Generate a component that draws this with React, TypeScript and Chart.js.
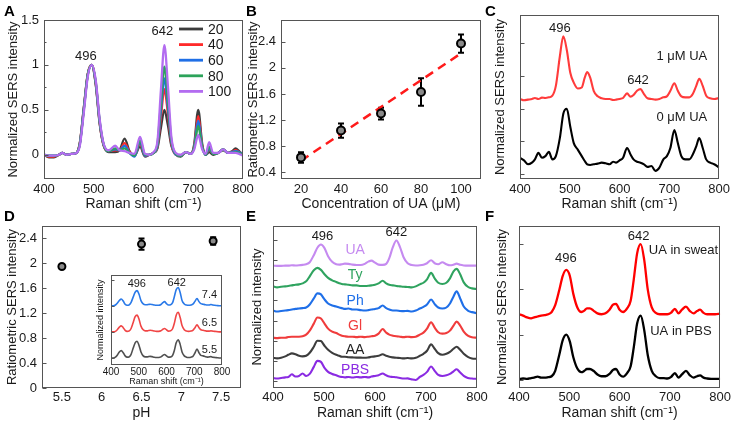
import React, { useEffect, useRef } from "react";
import { Chart, registerables } from "chart.js";

Chart.register(...registerables);

const FONT = '"Liberation Sans", Arial, Helvetica, sans-serif';
const W = 733;
const H = 423;
const AXIS = "#555555";
const TXT = "#1a1a1a";

// ---------------- Panel A : spectra vs concentration ----------------
const xA = [400,410,420,430,437,445,455,465,472,480,488,496,504,512,520,530,543,552,562,572,582,593,603,612,620,628,635,642,649,656,665,675,685,695,702,710,718,725,732,740,750,760,770,778,785,792,800];
const a20 = [0.00,-0.03,-0.03,0.00,0.02,0.00,0.01,0.02,0.13,0.52,0.90,1.00,0.78,0.34,0.10,0.03,0.03,0.05,0.18,0.04,-0.01,0.09,-0.02,0.00,0.02,0.07,0.30,0.50,0.33,0.10,0.00,-0.02,0.03,0.01,0.12,0.50,0.12,0.00,0.03,0.00,0.02,0.05,0.02,0.04,0.07,0.04,0.00];
const a40 = [0.00,-0.02,-0.02,0.00,0.02,0.00,0.01,0.02,0.13,0.52,0.90,1.00,0.79,0.35,0.10,0.04,0.05,0.05,0.13,0.03,-0.01,0.12,-0.01,0.00,0.02,0.09,0.42,0.73,0.46,0.12,0.00,-0.01,0.03,0.01,0.10,0.43,0.10,0.00,0.06,0.01,0.02,0.06,0.02,0.03,0.05,0.03,0.00];
const a60 = [0.00,-0.01,-0.01,0.00,0.02,0.00,0.01,0.02,0.12,0.51,0.89,1.00,0.80,0.36,0.11,0.04,0.06,0.05,0.10,0.02,-0.02,0.14,-0.01,0.00,0.02,0.10,0.49,0.85,0.53,0.14,0.00,-0.01,0.03,0.01,0.09,0.38,0.09,0.00,0.07,0.01,0.02,0.06,0.02,0.03,0.04,0.03,0.00];
const a80 = [0.00,-0.01,-0.01,0.00,0.02,0.00,0.01,0.02,0.12,0.50,0.89,1.00,0.81,0.37,0.11,0.04,0.07,0.05,0.07,0.02,-0.01,0.16,0.00,0.00,0.02,0.12,0.57,0.98,0.61,0.16,0.01,-0.01,0.03,0.01,0.08,0.32,0.08,0.00,0.09,0.01,0.02,0.06,0.02,0.02,0.03,0.02,0.00];
const a100 = [0.00,-0.01,-0.01,0.00,0.02,0.00,0.01,0.02,0.10,0.47,0.87,1.00,0.83,0.39,0.12,0.05,0.10,0.05,0.04,0.02,0.01,0.20,0.01,0.00,0.03,0.15,0.72,1.22,0.77,0.20,0.02,0.00,0.03,0.01,0.06,0.22,0.06,0.01,0.14,0.02,0.02,0.06,0.02,0.02,0.02,0.01,-0.01];
const aLabels = ["20", "40", "60", "80", "100"];
const aTicksX = [400, 500, 600, 700, 800];
const aTicksY = [0, 0.5, 1, 1.5];

// ---------------- Panel B : ratiometric vs concentration ----------------
const bConc = [20, 40, 60, 80, 100];
const bRatio = [0.63, 1.04, 1.3, 1.63, 2.37];
const bErr = [0.08, 0.11, 0.09, 0.21, 0.14];
const bFitX = [20, 100];
const bFitY = [0.58, 2.22];
const bTicksX = [20, 40, 60, 80, 100];
const bTicksY = [0.4, 0.8, 1.2, 1.6, 2.0, 2.4];

// shared Raman-shift grid for panels C, D-inset, E, F
const xS = [400,408,416,424,430,437,444,451,458,465,472,480,487,494,501,508,516,524,530,535,541,548,556,564,572,580,587,593,600,607,615,622,628,635,642,649,656,664,672,680,688,695,702,710,717,724,732,740,747,754,760,767,774,782,790,800];
const ramanTicks = [400, 500, 600, 700, 800];

// ---------------- Panel C ----------------
const c0 = [0.50,0.42,0.30,0.35,0.45,0.65,0.50,0.55,0.68,0.45, 0.55,1.10,1.85,2.00,1.45,0.95,0.75,0.55,0.40,0.30, 0.28,0.30,0.32,0.35,0.33,0.30,0.38,0.35,0.42,0.50, 0.80,0.60,0.45,0.38,0.35,0.30,0.22,0.25,0.10,0.20, 0.45,0.55,0.80,1.35,0.95,0.55,0.45,0.45,0.60,0.85, 1.10,0.80,0.45,0.35,0.30,0.20];
const c1 = [2.30,2.26,2.28,2.30,2.33,2.30,2.34,2.33,2.35,2.40, 2.70,3.60,4.22,3.80,3.10,2.80,2.62,2.65,2.95,3.12, 2.95,2.55,2.38,2.32,2.30,2.30,2.27,2.28,2.30,2.33, 2.47,2.37,2.42,2.55,2.60,2.45,2.32,2.30,2.28,2.30, 2.35,2.38,2.55,2.78,2.55,2.38,2.35,2.35,2.45,2.70, 2.92,2.70,2.40,2.32,2.30,2.33];
const cTicksY = [0, 1, 2, 3, 4];

// ---------------- Panel D ----------------
const dPH = [5.5, 6.5, 7.4];
const dRatio = [1.95, 2.31, 2.36];
const dErr = [0.03, 0.09, 0.06];
const dTicksX = [5.5, 6, 6.5, 7, 7.5];
const dTicksY = [0, 0.4, 0.8, 1.2, 1.6, 2.0, 2.4];
const d55 = [0.02,0.02,0.05,0.15,0.25,0.30,0.22,0.10,0.05,0.06, 0.15,0.40,0.60,0.66,0.50,0.25,0.10,0.06,0.06,0.07, 0.08,0.07,0.05,0.04,0.04,0.06,0.12,0.15,0.10,0.05, 0.06,0.12,0.30,0.60,0.72,0.55,0.25,0.10,0.05,0.04, 0.05,0.08,0.20,0.36,0.22,0.12,0.10,0.07,0.05,0.06, 0.07,0.05,0.04,0.03,0.02,0.02];
const d65 = [1.02,1.02,1.04,1.12,1.20,1.25,1.18,1.08,1.04,1.05, 1.14,1.38,1.60,1.66,1.50,1.24,1.10,1.06,1.06,1.07, 1.08,1.07,1.05,1.04,1.04,1.06,1.12,1.15,1.10,1.05, 1.06,1.14,1.34,1.66,1.77,1.58,1.26,1.10,1.05,1.04, 1.05,1.08,1.17,1.29,1.18,1.10,1.08,1.06,1.05,1.05, 1.06,1.05,1.04,1.03,1.02,1.02];
const d74 = [2.02,2.02,2.05,2.14,2.22,2.28,2.20,2.08,2.04,2.05, 2.14,2.36,2.54,2.60,2.46,2.22,2.09,2.06,2.06,2.07, 2.08,2.07,2.05,2.04,2.04,2.07,2.14,2.18,2.10,2.05, 2.06,2.14,2.36,2.64,2.72,2.54,2.22,2.09,2.05,2.04, 2.05,2.08,2.18,2.30,2.18,2.10,2.08,2.06,2.05,2.05, 2.07,2.05,2.04,2.03,2.02,2.02];
const insetTicksY = [0, 1, 2, 3];

// ---------------- Panel E ----------------
const ePBS = [0.15,0.12,0.15,0.18,0.20,0.33,0.22,0.25,0.37,0.25, 0.35,0.70,1.00,0.95,0.65,0.45,0.35,0.28,0.22,0.20, 0.18,0.20,0.17,0.20,0.18,0.20,0.18,0.22,0.25,0.28, 0.37,0.28,0.22,0.20,0.18,0.15,0.12,0.13,0.08,0.05, 0.20,0.30,0.45,0.72,0.50,0.30,0.25,0.28,0.35,0.48, 0.58,0.42,0.25,0.15,0.12,0.10];
const eAA = [1.15,1.12,1.15,1.22,1.30,1.37,1.33,1.25,1.22,1.25, 1.40,1.70,2.00,1.98,1.75,1.55,1.40,1.30,1.25,1.20, 1.20,1.18,1.17,1.16,1.16,1.15,1.17,1.20,1.22,1.25, 1.33,1.25,1.20,1.17,1.15,1.14,1.12,1.14,1.12,1.15, 1.25,1.35,1.50,1.82,1.60,1.38,1.30,1.35,1.45,1.60, 1.70,1.55,1.35,1.20,1.12,1.10];
const eGl = [2.15,2.13,2.15,2.15,2.18,2.20,2.20,2.20,2.22,2.30, 2.50,2.85,3.15,3.10,2.85,2.60,2.45,2.38,2.30,2.25, 2.22,2.20,2.20,2.18,2.20,2.18,2.20,2.22,2.25,2.35, 2.58,2.40,2.30,2.25,2.22,2.20,2.18,2.20,2.18,2.20, 2.30,2.40,2.60,2.92,2.65,2.42,2.35,2.38,2.50,2.75, 2.95,2.75,2.45,2.25,2.17,2.15];
const ePh = [3.50,3.45,3.48,3.50,3.52,3.55,3.58,3.60,3.62,3.65, 3.80,4.10,4.35,4.30,4.05,3.85,3.75,3.70,3.65,3.62, 3.58,3.60,3.55,3.55,3.52,3.50,3.52,3.55,3.58,3.62, 3.75,3.62,3.55,3.50,3.50,3.48,3.47,3.48,3.45,3.50, 3.60,3.68,3.80,4.05,3.82,3.65,3.60,3.65,3.85,4.20, 4.45,4.10,3.70,3.50,3.42,3.37];
const eTy = [4.70,4.65,4.68,4.70,4.72,4.75,4.78,4.80,4.85,4.95, 5.20,5.50,5.62,5.52,5.30,5.12,5.00,4.92,4.85,4.82, 4.80,4.78,4.75,4.75,4.72,4.72,4.73,4.75,4.78,4.85, 4.98,4.85,4.78,4.75,4.72,4.70,4.68,4.67,4.65,4.70, 4.80,4.88,5.05,5.37,5.10,4.88,4.82,4.88,5.10,5.45, 5.57,5.30,4.90,4.68,4.60,4.57];
const eUA = [5.73,5.72,5.72,5.73,5.73,5.75,5.74,5.75,5.77,5.80, 5.90,6.25,6.62,6.78,6.60,6.20,5.92,5.80,5.78,5.80, 5.83,5.82,5.78,5.76,5.76,5.82,5.93,5.98,5.88,5.78, 5.77,5.82,6.10,6.65,6.98,6.65,6.15,5.85,5.76,5.74, 5.75,5.78,5.85,6.00,5.85,5.80,5.90,5.80,5.75,5.78, 5.83,5.77,5.74,5.73,5.73,5.73];
const eTicksY = [0, 1, 2, 3, 4, 5, 6, 7];

// ---------------- Panel F ----------------
const fPBS = [0.02,0.03,0.02,0.04,0.05,0.07,0.05,0.05,0.06,0.08, 0.20,0.55,0.88,1.00,0.85,0.50,0.25,0.17,0.20,0.24, 0.24,0.20,0.12,0.08,0.08,0.13,0.22,0.24,0.12,0.07, 0.15,0.30,0.70,1.25,1.42,1.10,0.55,0.20,0.08,0.04, 0.04,0.03,0.06,0.15,0.05,0.12,0.20,0.10,0.05,0.08, 0.10,0.05,0.03,0.02,0.02,0.02];
const fSweat = [1.45,1.42,1.38,1.36,1.38,1.40,1.42,1.43,1.45,1.50, 1.65,1.98,2.30,2.43,2.30,1.90,1.60,1.50,1.53,1.58, 1.58,1.53,1.47,1.45,1.47,1.55,1.66,1.68,1.55,1.50, 1.58,1.75,2.20,2.80,3.00,2.65,2.00,1.60,1.48,1.45, 1.45,1.45,1.48,1.57,1.47,1.55,1.62,1.52,1.47,1.52, 1.55,1.48,1.45,1.45,1.45,1.46];
const fTicksY = [0, 1, 2, 3];

const RAMAN = "Raman shift (cm\u207B\u00B9)";

function fmt(v: number) {
  return String(Math.round(v * 100) / 100);
}

function series(xs: number[], ys: number[], color: string, label = "", width = 2, order = 0) {
  return {
    label,
    order,
    data: xs.map((x, i) => ({ x, y: ys[i] })),
    borderColor: color,
    backgroundColor: color,
    borderWidth: width,
    pointRadius: 0,
    cubicInterpolationMode: "monotone",
    fill: false,
  };
}

function makeDecor(d: any) {
  return {
    id: "decor",
    beforeDraw(chart: any) {
      if (!d.whiteBg) return;
      const { ctx, chartArea: a } = chart;
      ctx.save();
      ctx.fillStyle = "#ffffff";
      ctx.fillRect(a.left, a.top, a.right - a.left, a.bottom - a.top);
      ctx.restore();
    },
    beforeDatasetsDraw(chart: any) {
      if (!d.errors) return;
      const { ctx } = chart;
      const xs = chart.scales.x;
      const ys = chart.scales.y;
      ctx.save();
      ctx.strokeStyle = "#000";
      ctx.lineWidth = 2;
      d.errors.x.forEach((xv: number, i: number) => {
        const px = xs.getPixelForValue(xv);
        const y1 = ys.getPixelForValue(d.errors.y[i] - d.errors.e[i]);
        const y2 = ys.getPixelForValue(d.errors.y[i] + d.errors.e[i]);
        ctx.beginPath();
        ctx.moveTo(px, y1);
        ctx.lineTo(px, y2);
        ctx.moveTo(px - 3, y1);
        ctx.lineTo(px + 3, y1);
        ctx.moveTo(px - 3, y2);
        ctx.lineTo(px + 3, y2);
        ctx.stroke();
      });
      ctx.restore();
    },
    afterDatasetsDraw(chart: any) {
      const { ctx, chartArea: a } = chart;
      const ys = chart.scales.y;
      const xs = chart.scales.x;
      ctx.save();
      ctx.strokeStyle = AXIS;
      ctx.lineWidth = 1;
      const l = Math.round(a.left) + 0.5;
      const t = Math.round(a.top) + 0.5;
      const r = Math.round(a.right) - 0.5;
      const b = Math.round(a.bottom) - 0.5;
      ctx.strokeRect(l, t, r - l, b - t);
      const len = d.tickLen ?? 4;
      ctx.beginPath();
      const vals = ys.ticks.map((tk: any) => tk.value);
      vals.forEach((v: number) => {
        const py = Math.round(ys.getPixelForValue(v)) + 0.5;
        ctx.moveTo(l, py);
        ctx.lineTo(l + len, py);
      });
      if (d.minor) {
        for (let i = 0; i < vals.length - 1; i++) {
          const py = Math.round(ys.getPixelForValue((vals[i] + vals[i + 1]) / 2)) + 0.5;
          ctx.moveTo(l, py);
          ctx.lineTo(l + len / 2, py);
        }
      }
      ctx.stroke();
      (d.texts || []).forEach((tx: any) => {
        ctx.fillStyle = tx.c || TXT;
        ctx.font = `${tx.s || 13}px ${FONT}`;
        ctx.textAlign = "center";
        ctx.textBaseline = "middle";
        ctx.fillText(tx.t, xs.getPixelForValue(tx.x), ys.getPixelForValue(tx.y));
      });
      if (d.legend) {
        const g = d.legend;
        chart.data.datasets.forEach((ds: any, i: number) => {
          const y = a.top + g.y0 + i * g.dy;
          ctx.strokeStyle = ds.borderColor;
          ctx.lineWidth = 2.8;
          ctx.beginPath();
          ctx.moveTo(a.left + g.x0, y);
          ctx.lineTo(a.left + g.x1, y);
          ctx.stroke();
          ctx.fillStyle = TXT;
          ctx.font = `${g.size}px ${FONT}`;
          ctx.textAlign = "left";
          ctx.textBaseline = "middle";
          ctx.fillText(ds.label, a.left + g.xt, y + 1);
        });
      }
      ctx.restore();
    },
  };
}

function buildChart(canvas: HTMLCanvasElement, p: any) {
  const tickSize = p.tickSize ?? 13;
  const titleSize = p.titleSize ?? 13;
  const xTitleSize = p.xTitleSize ?? titleSize;
  const lh = titleSize * 1.2;
  const lhx = xTitleSize * 1.2;
  const leftPad = p.yTitleX - lh / 2;
  const xh = p.xTitleY + lhx / 2 - p.box.B;
  const yw = p.box.L - leftPad;
  const tickFont = { family: FONT, size: tickSize };
  const titleFont = { family: FONT, size: titleSize };
  const xTitleFont = { family: FONT, size: xTitleSize };
  return new Chart(canvas, {
    type: "line",
    data: { datasets: p.datasets },
    options: {
      responsive: false,
      animation: false,
      events: [],
      layout: {
        padding: { left: leftPad, top: p.box.T, right: W - p.box.R, bottom: H - p.box.B - xh },
      },
      plugins: { legend: { display: false }, tooltip: { enabled: false } },
      scales: {
        x: {
          type: "linear",
          position: "bottom",
          min: p.xMin,
          max: p.xMax,
          grid: { display: false, drawTicks: false },
          border: { display: false },
          ticks: {
            font: tickFont,
            color: TXT,
            padding: p.xTickPad ?? 3,
            maxRotation: 0,
            autoSkip: false,
            callback: (v: any) => fmt(Number(v)),
          },
          title: { display: true, text: p.xTitle, font: xTitleFont, color: TXT, padding: 0 },
          afterBuildTicks: (s: any) => {
            s.ticks = p.xTicks.map((v: number) => ({ value: v }));
          },
          afterFit: (s: any) => {
            s.height = xh;
          },
        },
        y: {
          type: "linear",
          position: "left",
          min: p.yMin,
          max: p.yMax,
          grid: { display: false, drawTicks: false },
          border: { display: false },
          ticks: {
            display: p.yLabels,
            font: tickFont,
            color: TXT,
            padding: 5,
            autoSkip: false,
            callback: (v: any) => fmt(Number(v)),
          },
          title: { display: true, text: p.yTitle, font: titleFont, color: TXT, padding: 0 },
          afterBuildTicks: (s: any) => {
            s.ticks = p.yTicks.map((v: number) => ({ value: v }));
          },
          afterFit: (s: any) => {
            s.width = yw;
          },
        },
      },
    } as any,
    plugins: [makeDecor(p.decor || {})],
  } as any);
}

const PANELS: any[] = [
  {
    // A
    box: { L: 44, R: 243, T: 20, B: 179 },
    yTitleX: 13, xTitleY: 204, xTitleSize: 14,
    xMin: 400, xMax: 800, yMin: -0.27, yMax: 1.5,
    xTicks: aTicksX, yTicks: aTicksY, yLabels: true,
    xTitle: RAMAN, yTitle: "Normalized SERS intensity",
    datasets: [
      series(xA, a20, "#3c3c3c", aLabels[0], 2.3, 4),
      series(xA, a40, "#ff2a2a", aLabels[1], 2.3, 3),
      series(xA, a60, "#1f6fe6", aLabels[2], 2.3, 2),
      series(xA, a80, "#2ca35a", aLabels[3], 2.3, 1),
      series(xA, a100, "#b36cf0", aLabels[4], 2.3, 0),
    ],
    decor: {
      minor: true,
      legend: { x0: 135, x1: 159, xt: 164, y0: 9, dy: 15.6, size: 14 },
      texts: [
        { t: "496", x: 484, y: 1.09 },
        { t: "642", x: 638, y: 1.37 },
      ],
    },
  },
  {
    // B
    box: { L: 281, R: 481, T: 20, B: 179 },
    yTitleX: 253, xTitleY: 204, xTitleSize: 14,
    xMin: 10, xMax: 110, yMin: 0.3, yMax: 2.73,
    xTicks: bTicksX, yTicks: bTicksY, yLabels: true,
    xTitle: "Concentration of UA (\u03BCM)", yTitle: "Ratiometric SERS intensity",
    datasets: [
      {
        label: "UA",
        data: bConc.map((x, i) => ({ x, y: bRatio[i] })),
        showLine: false,
        pointRadius: 4,
        pointBackgroundColor: "#8a8a8a",
        pointBorderColor: "#000",
        pointBorderWidth: 2,
      },
      {
        label: "fit",
        data: bFitX.map((x, i) => ({ x, y: bFitY[i] })),
        borderColor: "#ff1a1a",
        borderWidth: 2.5,
        borderDash: [9, 6],
        pointRadius: 0,
      },
    ],
    decor: { errors: { x: bConc, y: bRatio, e: bErr } },
  },
  {
    // C
    box: { L: 520, R: 720, T: 15, B: 179 },
    yTitleX: 500, xTitleY: 204, xTitleSize: 14,
    xMin: 400, xMax: 800, yMin: -0.15, yMax: 4.87,
    xTicks: ramanTicks, yTicks: cTicksY, yLabels: false,
    xTitle: RAMAN, yTitle: "Normalized SERS intensity",
    datasets: [series(xS, c1, "#ff3b3b", "1 \u03BCM UA", 2.1), series(xS, c0, "#000000", "0 \u03BCM UA", 2.1)],
    decor: {
      texts: [
        { t: "496", x: 480, y: 4.46 },
        { t: "1 \u03BCM UA", x: 725, y: 3.6 },
        { t: "642", x: 637, y: 2.88 },
        { t: "0 \u03BCM UA", x: 725, y: 1.73 },
      ],
    },
  },
  {
    // D
    box: { L: 42, R: 241, T: 226, B: 388 },
    yTitleX: 12, xTitleY: 413, xTickPad: 2, xTitleSize: 14,
    xMin: 5.25, xMax: 7.75, yMin: 0, yMax: 2.6,
    xTicks: dTicksX, yTicks: dTicksY, yLabels: true,
    xTitle: "pH", yTitle: "Ratiometric SERS intensity",
    datasets: [
      {
        label: "pH",
        data: dPH.map((x, i) => ({ x, y: dRatio[i] })),
        showLine: false,
        pointRadius: 3.5,
        pointBackgroundColor: "#8a8a8a",
        pointBorderColor: "#000",
        pointBorderWidth: 2,
      },
    ],
    decor: { errors: { x: dPH, y: dRatio, e: dErr } },
  },
  {
    // D inset
    box: { L: 111, R: 222, T: 275, B: 365 },
    yTitleX: 101, xTitleY: 382, xTickPad: 1, tickSize: 10, titleSize: 9,
    xMin: 400, xMax: 800, yMin: -0.25, yMax: 3.2,
    xTicks: ramanTicks, yTicks: insetTicksY, yLabels: false,
    xTitle: RAMAN, yTitle: "Normalized intensity",
    datasets: [
      series(xS, d74, "#2979e8", "7.4", 1.6),
      series(xS, d65, "#f04545", "6.5", 1.6),
      series(xS, d55, "#505050", "5.5", 1.6),
    ],
    decor: {
      whiteBg: true,
      tickLen: 3,
      texts: [
        { t: "496", x: 493, y: 2.87, s: 11 },
        { t: "642", x: 637, y: 2.89, s: 11 },
        { t: "7.4", x: 755, y: 2.45, s: 11 },
        { t: "6.5", x: 755, y: 1.38, s: 11 },
        { t: "5.5", x: 755, y: 0.31, s: 11 },
      ],
    },
  },
  {
    // E
    box: { L: 273, R: 477, T: 226, B: 388 },
    yTitleX: 257, xTitleY: 413, xTickPad: 2, xTitleSize: 14,
    xMin: 400, xMax: 800, yMin: -0.35, yMax: 7.7,
    xTicks: ramanTicks, yTicks: eTicksY, yLabels: false,
    xTitle: RAMAN, yTitle: "Normalized intensity",
    datasets: [
      series(xS, eUA, "#c58af0", "UA", 2.1),
      series(xS, eTy, "#2fa35f", "Ty", 2.1),
      series(xS, ePh, "#1f6fe8", "Ph", 2.1),
      series(xS, eGl, "#f03c3c", "Gl", 2.1),
      series(xS, eAA, "#3d3d3d", "AA", 2.1),
      series(xS, ePBS, "#8a2be2", "PBS", 2.1),
    ],
    decor: {
      texts: [
        { t: "496", x: 497, y: 7.2 },
        { t: "642", x: 642, y: 7.37 },
        { t: "UA", x: 561, y: 6.5, c: "#c58af0", s: 14 },
        { t: "Ty", x: 561, y: 5.25, c: "#2fa35f", s: 14 },
        { t: "Ph", x: 561, y: 3.95, c: "#1f6fe8", s: 14 },
        { t: "Gl", x: 561, y: 2.7, c: "#f03c3c", s: 14 },
        { t: "AA", x: 561, y: 1.53, c: "#222222", s: 14 },
        { t: "PBS", x: 561, y: 0.53, c: "#8a2be2", s: 14 },
      ],
    },
  },
  {
    // F
    box: { L: 519, R: 721, T: 226, B: 388 },
    yTitleX: 502, xTitleY: 413, xTickPad: 2, xTitleSize: 14,
    xMin: 400, xMax: 800, yMin: -0.18, yMax: 3.4,
    xTicks: ramanTicks, yTicks: fTicksY, yLabels: false,
    xTitle: RAMAN, yTitle: "Normalized SERS intensity",
    datasets: [series(xS, fSweat, "#ff0000", "UA in sweat", 2.3), series(xS, fPBS, "#000000", "UA in PBS", 2.3)],
    decor: {
      texts: [
        { t: "496", x: 493, y: 2.69 },
        { t: "642", x: 638, y: 3.16 },
        { t: "UA in sweat", x: 727, y: 2.85 },
        { t: "UA in PBS", x: 722, y: 1.08 },
      ],
    },
  },
];

const LETTERS: [string, number, number][] = [
  ["A", 4, 3],
  ["B", 246, 3],
  ["C", 485, 3],
  ["D", 4, 208],
  ["E", 246, 208],
  ["F", 485, 208],
];

export default function App() {
  const holder = useRef<(HTMLCanvasElement | null)[]>([]);
  useEffect(() => {
    const charts = PANELS.map((p, i) => buildChart(holder.current[i] as HTMLCanvasElement, p));
    return () => charts.forEach((c) => c.destroy());
  }, []);
  return (
    <div
      style={{
        position: "absolute",
        left: 0,
        top: 0,
        width: W,
        height: H,
        background: "#ffffff",
        overflow: "hidden",
      }}
    >
      {PANELS.map((_, i) => (
        <canvas
          key={i}
          ref={(el) => {
            holder.current[i] = el;
          }}
          width={W}
          height={H}
          style={{ position: "absolute", left: 0, top: 0 }}
        />
      ))}
      {LETTERS.map(([t, x, y]) => (
        <div
          key={t}
          style={{
            position: "absolute",
            left: x,
            top: y,
            fontFamily: FONT,
            fontWeight: "bold",
            fontSize: 15,
            lineHeight: "15px",
            color: "#000",
          }}
        >
          {t}
        </div>
      ))}
    </div>
  );
}
